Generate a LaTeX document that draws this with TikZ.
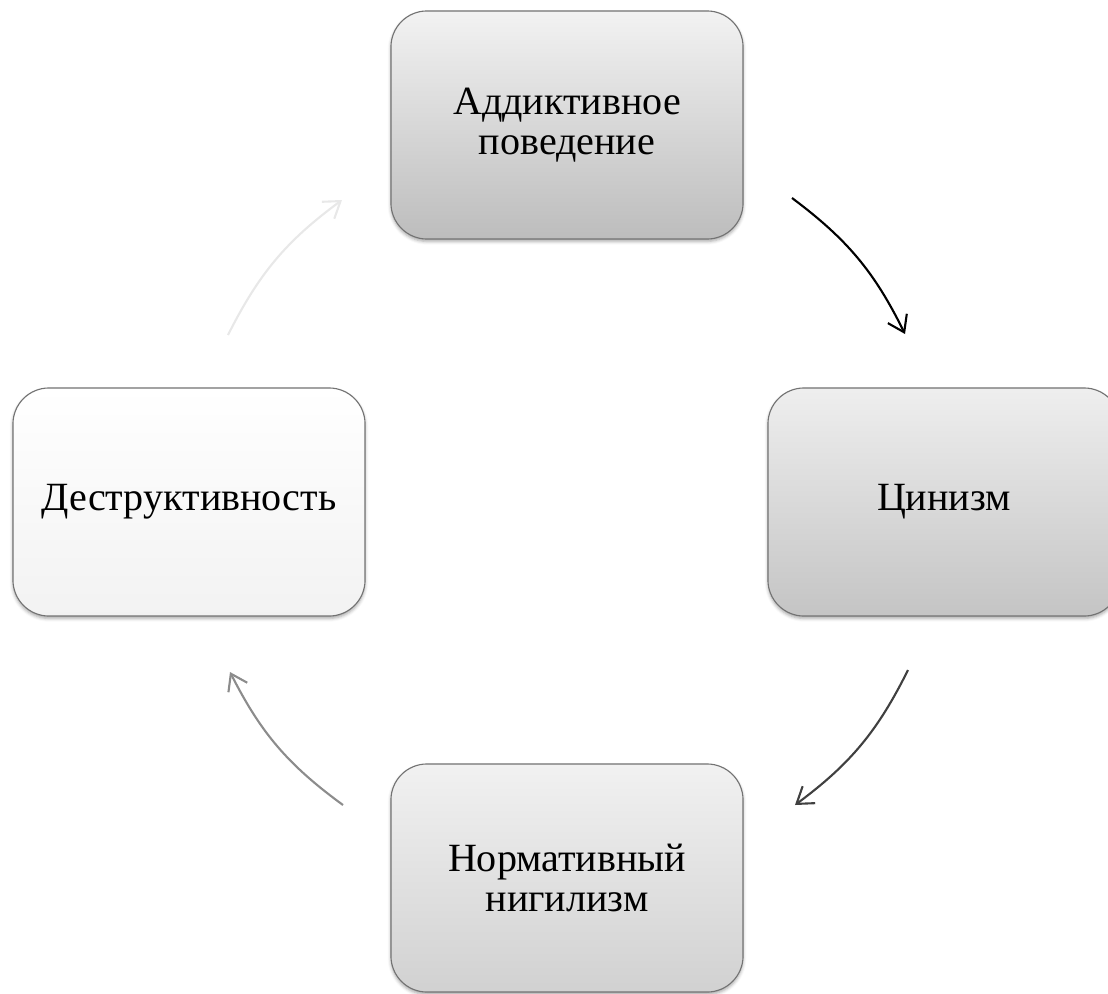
\documentclass[tikz,border=0pt]{standalone}
\usepackage{fontspec}
\setmainfont{Liberation Serif}
\usetikzlibrary{arrows.meta}
\usetikzlibrary{shadows.blur}
\definecolor{mborder}{rgb}{0.45, 0.45, 0.45}
\definecolor{mgray}{rgb}{0.25, 0.25, 0.25}
\definecolor{mlight}{rgb}{0.55, 0.55, 0.55}
\definecolor{mpale}{rgb}{0.91, 0.91, 0.91}
\tikzset{stage/.style = {draw=mborder, line width=0.8pt, rounded corners=0.9cm,
                         minimum width=8.8cm, minimum height=5.7cm,
                         align=center, inner sep=0pt,
                         font=\fontsize{28.5}{28.5}\selectfont,
                         blur shadow={shadow xshift=0pt, shadow yshift=-0.06cm,
                                      shadow blur radius=0.08cm, shadow opacity=35}},
         flow/.style = {line width=1.5pt, -{Straight Barb[length=11pt,width=15pt]},
                        bend left=13.5}}

\begin{document}
\begin{tikzpicture}[x=0.025cm, y=-0.025cm]
    \useasboundingbox (0, 0) rectangle (1108, 993);

    \node [stage, top color=gray!10, bottom color=gray!52] (addict) at (567, 125)
      {Аддиктивное\\поведение};
    \node [stage, top color=gray!13, bottom color=gray!46] (cyn) at (944, 502)
      {Цинизм};
    \node [stage, top color=gray!11, bottom color=gray!36] (nihil) at (567, 878)
      {Нормативный\\нигилизм};
    \node [stage, top color=white, bottom color=gray!10] (destr) at (189, 502)
      {Деструктивность};

    \coordinate (a1) at (792, 198);
    \coordinate (b1) at (905, 334);
    \coordinate (a2) at (908, 670);
    \coordinate (b2) at (795, 805);
    \coordinate (a3) at (343, 805);
    \coordinate (b3) at (230, 672);
    \coordinate (a4) at (228, 335);
    \coordinate (b4) at (342, 200);

    \draw [flow, black] (a1) to (b1);
    \draw [flow, mgray] (a2) to (b2);
    \draw [flow, mlight] (a3) to (b3);
    \draw [flow, mpale] (a4) to (b4);
  \end{tikzpicture}
\end{document}
